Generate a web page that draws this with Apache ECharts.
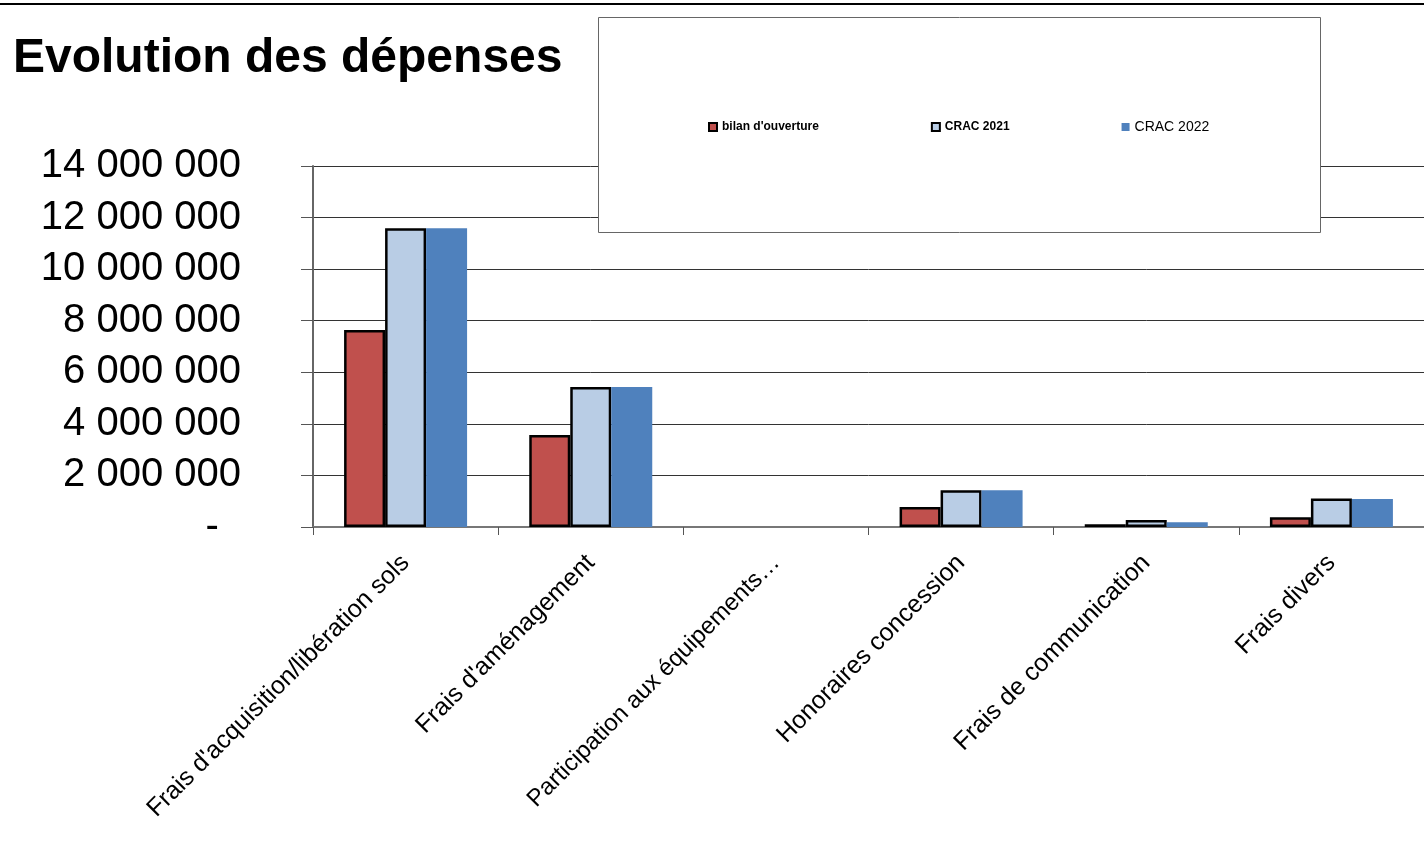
<!DOCTYPE html>
<html><head><meta charset="utf-8">
<script src="https://cdn.jsdelivr.net/npm/echarts@6/dist/echarts.min.js"></script>
<style>html,body{margin:0;padding:0;background:#fff}#c{width:1424px;height:850px}</style>
</head><body><div id="c"></div>
<script>
const categories = ["Frais d'acquisition/libération sols", "Frais d'aménagement", "Participation aux équipements…", "Honoraires concession", "Frais de communication", "Frais divers"];
const bilanOuverture = [7640000, 3570000, 0, 780000, 110000, 380000];
const crac2021 = [11590000, 5430000, 0, 1430000, 270000, 1110000];
const crac2022 = [11590000, 5430000, 0, 1430000, 180000, 1090000];
const seriesNames = ["bilan d'ouverture", "CRAC 2021", "CRAC 2022"];

const chart = echarts.init(document.getElementById('c'), null, {renderer: 'canvas'});
const font = 'Liberation Sans, Arial, sans-serif';
function fmt(v) {
  if (v === 0) return '-  ';
  return String(v).replace(/\B(?=(\d{3})+(?!\d))/g, ' ');
}
function items(arr) {
  return arr.map(v => v === 0 ? {value: v, itemStyle: {borderWidth: 0}} : v);
}
const catData = categories.map((c, i) => i === 2 ? {value: c, textStyle: {fontSize: 24}} : c);
chart.setOption({
  animation: false,
  textStyle: {fontFamily: font},
  title: {
    text: 'Evolution des dépenses', left: 8, top: 30,
    textStyle: {fontSize: 48, fontWeight: 'bold', color: '#000', fontFamily: font}
  },
  graphic: [
    {type: 'line', shape: {x1: 0, y1: 4, x2: 1424, y2: 4}, style: {stroke: '#000', lineWidth: 2}, z: 100},
    {type: 'rect', shape: {x: 598.5, y: 17.5, width: 722, height: 215}, style: {fill: '#fff', stroke: '#666', lineWidth: 1}, z: 100}
  ],
  legend: {
    left: 703, top: 115, z: 200, itemGap: 112, itemWidth: 8, itemHeight: 8,
    icon: 'rect',
    textStyle: {fontSize: 12, color: '#000', fontFamily: font},
    data: [
      {name: seriesNames[0], textStyle: {fontWeight: 'bold'}, itemStyle: {color: '#C0504D', borderColor: '#000', borderWidth: 2}},
      {name: seriesNames[1], textStyle: {fontWeight: 'bold'}, itemStyle: {color: '#B9CDE5', borderColor: '#000', borderWidth: 2}},
      {name: seriesNames[2], textStyle: {fontSize: 14}, itemStyle: {color: '#4F81BD', borderWidth: 0}}
    ]
  },
  grid: {left: 313, right: -2, top: 166, bottom: 323, containLabel: false},
  xAxis: {
    type: 'category', data: catData,
    axisLine: {lineStyle: {color: '#777', width: 2}},
    axisTick: {show: true, length: 8, lineStyle: {color: '#555'}},
    axisLabel: {rotate: 45, fontSize: 25, color: '#000', margin: 32, interval: 0, fontFamily: font}
  },
  yAxis: {
    type: 'value', min: 0, max: 14000000, interval: 2000000,
    axisLine: {show: true, lineStyle: {color: '#666', width: 2}},
    axisTick: {show: true, length: 12, lineStyle: {color: '#555'}},
    axisLabel: {fontSize: 40, color: '#000', margin: 72, fontFamily: font, formatter: fmt},
    splitLine: {show: true, lineStyle: {color: '#333', width: 1}}
  },
  series: [
    {name: seriesNames[0], type: 'bar', data: items(bilanOuverture), barWidth: 41, barGap: '0%',
     itemStyle: {color: '#C0504D', borderColor: '#000', borderWidth: 2.5}},
    {name: seriesNames[1], type: 'bar', data: items(crac2021), barWidth: 41, barGap: '0%',
     itemStyle: {color: '#B9CDE5', borderColor: '#000', borderWidth: 2.5}},
    {name: seriesNames[2], type: 'bar', data: items(crac2022), barWidth: 41, barGap: '0%',
     itemStyle: {color: '#4F81BD'}}
  ]
});
</script></body></html>
